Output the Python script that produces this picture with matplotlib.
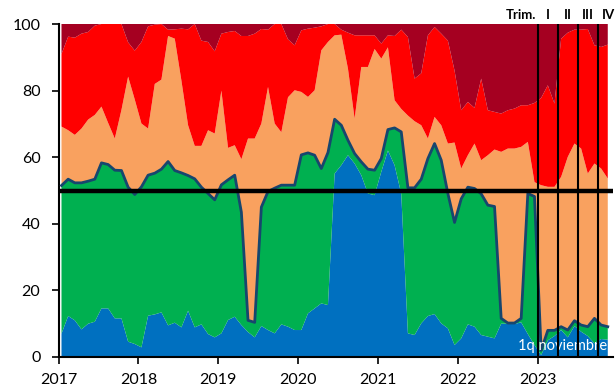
import numpy as np
import matplotlib
matplotlib.use("Agg")
import matplotlib.pyplot as plt

# Cumulative boundaries (monthly, Jan-2017 .. Nov-2023)
acum_azul = [7.0, 12.3, 11.0, 8.3, 10.0, 10.6, 14.6, 14.6, 11.6, 11.6, 4.6, 3.9, 2.9, 12.4, 12.8, 13.4,
             9.5, 10.3, 8.9, 13.9, 8.9, 9.8, 6.9, 5.9, 7.1, 11.1, 12.1, 9.6, 7.5, 5.9, 9.3, 8.1,
             7.1, 9.8, 9.1, 8.1, 8.1, 13.1, 14.6, 16.1, 15.6, 55.1, 57.6, 60.6, 58.1, 54.6, 49.1, 48.6,
             55.6, 62.0, 57.6, 49.0, 7.1, 6.6, 10.1, 12.3, 12.9, 10.1, 8.6, 3.6, 5.6, 9.8, 9.1, 6.6,
             6.1, 5.6, 10.0, 10.0, 9.9, 10.4, 6.9, 3.6, 0.6, 5.0, 6.3, 8.1, 5.9, 9.3, 7.6, 6.3,
             4.1, 5.4, 5.2]
acum_verde = [51.5, 53.4, 52.3, 52.3, 52.8, 53.4, 58.3, 57.8, 56.1, 56.0, 51.0, 48.8, 51.1, 54.6, 55.2, 56.4,
              58.7, 56.0, 55.3, 54.5, 53.5, 51.0, 49.1, 47.2, 51.7, 53.2, 54.6, 43.5, 11.0, 10.4, 45.0, 49.7,
              50.7, 51.6, 51.6, 51.6, 60.7, 61.3, 60.6, 56.6, 61.4, 71.4, 69.6, 65.1, 61.1, 58.6, 56.4, 56.1,
              59.6, 68.3, 68.8, 67.6, 50.8, 50.8, 53.4, 59.6, 64.1, 59.1, 49.1, 40.4, 47.5, 51.0, 50.6, 49.0,
              45.6, 45.2, 11.6, 10.2, 10.2, 11.6, 49.1, 48.2, 2.0, 8.0, 8.0, 9.1, 8.1, 10.9, 9.6, 9.1,
              11.6, 9.6, 9.1]
acum_naranja = [69.2, 68.1, 66.7, 68.6, 71.3, 72.7, 75.2, 70.3, 65.6, 74.2, 84.2, 77.3, 70.1, 68.6, 82.0, 83.3,
                96.4, 95.6, 83.0, 69.6, 63.4, 63.4, 68.1, 67.1, 80.0, 62.8, 63.6, 59.4, 65.6, 65.6, 70.1, 81.1,
                70.1, 67.5, 78.0, 80.1, 79.6, 78.1, 80.1, 92.1, 94.6, 96.6, 96.8, 86.6, 71.6, 87.1, 87.1, 92.5,
                89.6, 93.0, 77.1, 74.5, 72.5, 70.8, 69.6, 65.6, 72.1, 69.6, 64.1, 64.4, 56.6, 60.6, 64.1, 59.1,
                60.6, 62.3, 61.6, 62.6, 62.6, 63.1, 64.6, 52.5, 51.6, 51.1, 51.1, 54.1, 60.1, 64.1, 62.6, 55.1,
                58.1, 56.6, 53.6]
acum_rojo = [91.0, 96.2, 95.9, 97.1, 97.6, 99.5, 100.0, 100.0, 100.0, 100.0, 94.5, 92.0, 94.6, 99.3, 99.8, 100.0,
             98.3, 98.4, 98.6, 98.4, 100.0, 95.0, 94.6, 91.8, 97.1, 97.6, 97.9, 96.4, 96.4, 97.1, 98.5, 98.3,
             100.0, 100.0, 95.4, 93.6, 98.1, 98.6, 98.9, 99.3, 100.0, 100.0, 98.3, 97.4, 96.6, 96.6, 96.6, 96.6,
             94.1, 96.6, 96.4, 98.3, 96.1, 83.6, 85.2, 96.6, 99.1, 97.1, 95.0, 86.0, 74.1, 76.6, 74.8, 83.6,
             74.1, 73.6, 73.1, 74.1, 74.6, 75.6, 75.6, 76.3, 77.8, 81.6, 76.1, 95.6, 97.4, 98.3, 98.3, 98.5,
             93.6, 93.1, 93.8]

year_ticks = [2017, 2018, 2019, 2020, 2021, 2022, 2023]
y_ticks = [0, 20, 40, 60, 80, 100]
trim_labels = ["I", "II", "III", "IV"]

colors = ["#0070C0", "#00B050", "#F9A15F", "#FF0000", "#A50021"]

n = len(acum_azul)
x = 2017 + (np.arange(n) + 0.45) / 12.0
bounds = np.vstack([np.zeros(n), acum_azul, acum_verde, acum_naranja, acum_rojo, np.full(n, 100.0)])
shares = np.diff(bounds, axis=0)

fig = plt.figure(figsize=(6.15, 3.91), dpi=100)
ax = fig.add_axes([58.5 / 615, (391 - 357) / 391, (612.5 - 58.5) / 615, (357 - 24) / 391])

ax.stackplot(x, shares, colors=colors, linewidth=0)
ax.plot(x, acum_verde, color="#17466E", lw=2.0, zorder=3, solid_joinstyle="round")
ax.axhline(50, color="black", lw=3.2, zorder=4)
for k in range(4):
    ax.axvline(2023 + 0.25 * k, ymin=0, ymax=1, color="black", lw=1.5, zorder=6)

ax.set_xlim(2017, 2023.93)
ax.set_ylim(0, 100)
ax.set_xticks(year_ticks)
ax.set_xticklabels([str(y) for y in year_ticks])
ax.set_yticks(y_ticks)

font = "Lato"
for lab in ax.get_xticklabels():
    lab.set_fontfamily(font)
    lab.set_fontsize(11.5)
for lab in ax.get_yticklabels():
    lab.set_fontfamily(font)
    lab.set_fontsize(11.5)
ax.tick_params(axis="both", direction="out", length=5, width=1.2, color="black")
ax.tick_params(axis="y", pad=8)
ax.tick_params(axis="x", pad=6.5)
for s in ["top", "right"]:
    ax.spines[s].set_visible(False)
for s in ["left", "bottom"]:
    ax.spines[s].set_linewidth(1.5)

# Quarter labels above the plot
ax.text(2022.98, 1.01, "Trim.", transform=ax.get_xaxis_transform(), ha="right", va="bottom",
        fontsize=9.5, fontweight="bold", fontfamily=font)
for k, lab in enumerate(trim_labels):
    ax.text(2023.125 + 0.25 * k, 1.01, lab, transform=ax.get_xaxis_transform(), ha="center", va="bottom",
            fontsize=9.5, fontweight="bold", fontfamily=font)

ax.text(0.99, 0.012, "1q noviembre", transform=ax.transAxes, ha="right", va="bottom",
        color="white", fontsize=10.5, fontfamily=font, zorder=5)

fig.savefig("out.png", dpi=100)
